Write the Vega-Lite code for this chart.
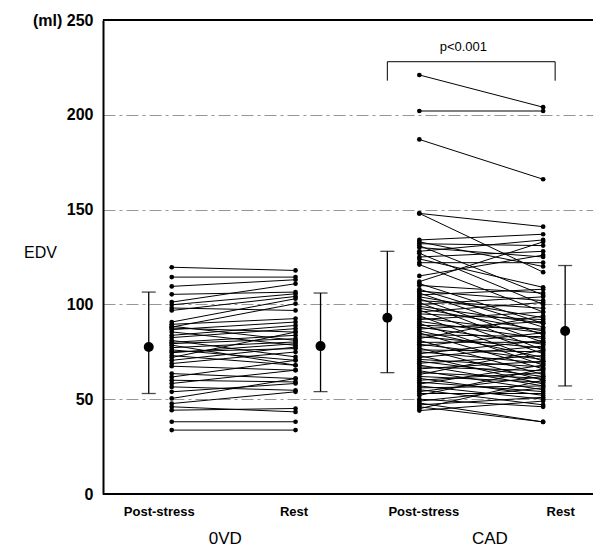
{
  "$schema": "https://vega.github.io/schema/vega-lite/v6.json",
  "padding": {"left": 23, "top": 12, "right": 0, "bottom": 0},
  "width": 492,
  "height": 474,
  "data": {"values": [
    {"group": "0VD", "kind": "patient", "id": 1, "0VD Post-stress": 119.6, "0VD Rest": 117.9},
    {"group": "0VD", "kind": "patient", "id": 2, "0VD Post-stress": 114.4, "0VD Rest": 114.4},
    {"group": "0VD", "kind": "patient", "id": 3, "0VD Post-stress": 109.5, "0VD Rest": 113.0},
    {"group": "0VD", "kind": "patient", "id": 4, "0VD Post-stress": 105.3, "0VD Rest": 106.5},
    {"group": "0VD", "kind": "patient", "id": 5, "0VD Post-stress": 101.2, "0VD Rest": 110.9},
    {"group": "0VD", "kind": "patient", "id": 6, "0VD Post-stress": 99.8, "0VD Rest": 105.6},
    {"group": "0VD", "kind": "patient", "id": 7, "0VD Post-stress": 98.1, "0VD Rest": 96.8},
    {"group": "0VD", "kind": "patient", "id": 8, "0VD Post-stress": 96.8, "0VD Rest": 104.2},
    {"group": "0VD", "kind": "patient", "id": 9, "0VD Post-stress": 90.7, "0VD Rest": 103.0},
    {"group": "0VD", "kind": "patient", "id": 10, "0VD Post-stress": 89.5, "0VD Rest": 92.5},
    {"group": "0VD", "kind": "patient", "id": 11, "0VD Post-stress": 88.0, "0VD Rest": 100.4},
    {"group": "0VD", "kind": "patient", "id": 12, "0VD Post-stress": 87.5, "0VD Rest": 85.4},
    {"group": "0VD", "kind": "patient", "id": 13, "0VD Post-stress": 86.7, "0VD Rest": 90.7},
    {"group": "0VD", "kind": "patient", "id": 14, "0VD Post-stress": 85.5, "0VD Rest": 78.4},
    {"group": "0VD", "kind": "patient", "id": 15, "0VD Post-stress": 83.7, "0VD Rest": 88.9},
    {"group": "0VD", "kind": "patient", "id": 16, "0VD Post-stress": 82.5, "0VD Rest": 87.2},
    {"group": "0VD", "kind": "patient", "id": 17, "0VD Post-stress": 81.0, "0VD Rest": 72.3},
    {"group": "0VD", "kind": "patient", "id": 18, "0VD Post-stress": 80.0, "0VD Rest": 83.7},
    {"group": "0VD", "kind": "patient", "id": 19, "0VD Post-stress": 79.3, "0VD Rest": 81.9},
    {"group": "0VD", "kind": "patient", "id": 20, "0VD Post-stress": 77.2, "0VD Rest": 80.2},
    {"group": "0VD", "kind": "patient", "id": 21, "0VD Post-stress": 76.0, "0VD Rest": 70.5},
    {"group": "0VD", "kind": "patient", "id": 22, "0VD Post-stress": 75.0, "0VD Rest": 76.7},
    {"group": "0VD", "kind": "patient", "id": 23, "0VD Post-stress": 74.5, "0VD Rest": 79.3},
    {"group": "0VD", "kind": "patient", "id": 24, "0VD Post-stress": 73.0, "0VD Rest": 67.9},
    {"group": "0VD", "kind": "patient", "id": 25, "0VD Post-stress": 70.5, "0VD Rest": 77.5},
    {"group": "0VD", "kind": "patient", "id": 26, "0VD Post-stress": 68.8, "0VD Rest": 74.9},
    {"group": "0VD", "kind": "patient", "id": 27, "0VD Post-stress": 67.4, "0VD Rest": 65.3},
    {"group": "0VD", "kind": "patient", "id": 28, "0VD Post-stress": 63.5, "0VD Rest": 60.9},
    {"group": "0VD", "kind": "patient", "id": 29, "0VD Post-stress": 61.7, "0VD Rest": 70.5},
    {"group": "0VD", "kind": "patient", "id": 30, "0VD Post-stress": 60.0, "0VD Rest": 59.1},
    {"group": "0VD", "kind": "patient", "id": 31, "0VD Post-stress": 58.3, "0VD Rest": 65.3},
    {"group": "0VD", "kind": "patient", "id": 32, "0VD Post-stress": 56.5, "0VD Rest": 54.7},
    {"group": "0VD", "kind": "patient", "id": 33, "0VD Post-stress": 53.9, "0VD Rest": 58.3},
    {"group": "0VD", "kind": "patient", "id": 34, "0VD Post-stress": 50.4, "0VD Rest": 60.9},
    {"group": "0VD", "kind": "patient", "id": 35, "0VD Post-stress": 47.7, "0VD Rest": 53.9},
    {"group": "0VD", "kind": "patient", "id": 36, "0VD Post-stress": 44.2, "0VD Rest": 45.1},
    {"group": "0VD", "kind": "patient", "id": 37, "0VD Post-stress": 38.1, "0VD Rest": 38.1},
    {"group": "0VD", "kind": "patient", "id": 38, "0VD Post-stress": 33.7, "0VD Rest": 33.7},
    {"group": "0VD", "kind": "patient", "id": 39, "0VD Post-stress": 88.5, "0VD Rest": 81.0},
    {"group": "0VD", "kind": "patient", "id": 40, "0VD Post-stress": 78.5, "0VD Rest": 67.9},
    {"group": "0VD", "kind": "patient", "id": 41, "0VD Post-stress": 72.0, "0VD Rest": 85.4},
    {"group": "0VD", "kind": "patient", "id": 42, "0VD Post-stress": 46.0, "0VD Rest": 43.3},
    {"group": "CAD", "kind": "patient", "id": 101, "CAD Post-stress": 221, "CAD Rest": 204},
    {"group": "CAD", "kind": "patient", "id": 102, "CAD Post-stress": 202, "CAD Rest": 202},
    {"group": "CAD", "kind": "patient", "id": 103, "CAD Post-stress": 187, "CAD Rest": 166},
    {"group": "CAD", "kind": "patient", "id": 104, "CAD Post-stress": 148, "CAD Rest": 141},
    {"group": "CAD", "kind": "patient", "id": 105, "CAD Post-stress": 148, "CAD Rest": 117},
    {"group": "CAD", "kind": "patient", "id": 106, "CAD Post-stress": 134, "CAD Rest": 137},
    {"group": "CAD", "kind": "patient", "id": 107, "CAD Post-stress": 133, "CAD Rest": 120},
    {"group": "CAD", "kind": "patient", "id": 108, "CAD Post-stress": 132, "CAD Rest": 131},
    {"group": "CAD", "kind": "patient", "id": 109, "CAD Post-stress": 131, "CAD Rest": 105},
    {"group": "CAD", "kind": "patient", "id": 110, "CAD Post-stress": 130, "CAD Rest": 125},
    {"group": "CAD", "kind": "patient", "id": 111, "CAD Post-stress": 128, "CAD Rest": 134},
    {"group": "CAD", "kind": "patient", "id": 112, "CAD Post-stress": 127, "CAD Rest": 100},
    {"group": "CAD", "kind": "patient", "id": 113, "CAD Post-stress": 125, "CAD Rest": 128},
    {"group": "CAD", "kind": "patient", "id": 114, "CAD Post-stress": 124, "CAD Rest": 109},
    {"group": "CAD", "kind": "patient", "id": 115, "CAD Post-stress": 122, "CAD Rest": 122},
    {"group": "CAD", "kind": "patient", "id": 116, "CAD Post-stress": 121, "CAD Rest": 96},
    {"group": "CAD", "kind": "patient", "id": 117, "CAD Post-stress": 115, "CAD Rest": 126},
    {"group": "CAD", "kind": "patient", "id": 118, "CAD Post-stress": 112, "CAD Rest": 133},
    {"group": "CAD", "kind": "patient", "id": 119, "CAD Post-stress": 111, "CAD Rest": 90},
    {"group": "CAD", "kind": "patient", "id": 120, "CAD Post-stress": 110, "CAD Rest": 106},
    {"group": "CAD", "kind": "patient", "id": 121, "CAD Post-stress": 108, "CAD Rest": 88},
    {"group": "CAD", "kind": "patient", "id": 122, "CAD Post-stress": 107, "CAD Rest": 102},
    {"group": "CAD", "kind": "patient", "id": 123, "CAD Post-stress": 106, "CAD Rest": 84},
    {"group": "CAD", "kind": "patient", "id": 124, "CAD Post-stress": 105, "CAD Rest": 108},
    {"group": "CAD", "kind": "patient", "id": 125, "CAD Post-stress": 104, "CAD Rest": 93},
    {"group": "CAD", "kind": "patient", "id": 126, "CAD Post-stress": 103, "CAD Rest": 80},
    {"group": "CAD", "kind": "patient", "id": 127, "CAD Post-stress": 102, "CAD Rest": 98},
    {"group": "CAD", "kind": "patient", "id": 128, "CAD Post-stress": 101, "CAD Rest": 76},
    {"group": "CAD", "kind": "patient", "id": 129, "CAD Post-stress": 100, "CAD Rest": 104},
    {"group": "CAD", "kind": "patient", "id": 130, "CAD Post-stress": 99, "CAD Rest": 90},
    {"group": "CAD", "kind": "patient", "id": 131, "CAD Post-stress": 98, "CAD Rest": 86},
    {"group": "CAD", "kind": "patient", "id": 132, "CAD Post-stress": 97, "CAD Rest": 74},
    {"group": "CAD", "kind": "patient", "id": 133, "CAD Post-stress": 96, "CAD Rest": 101},
    {"group": "CAD", "kind": "patient", "id": 134, "CAD Post-stress": 95, "CAD Rest": 92},
    {"group": "CAD", "kind": "patient", "id": 135, "CAD Post-stress": 94, "CAD Rest": 70},
    {"group": "CAD", "kind": "patient", "id": 136, "CAD Post-stress": 93, "CAD Rest": 85},
    {"group": "CAD", "kind": "patient", "id": 137, "CAD Post-stress": 92, "CAD Rest": 96},
    {"group": "CAD", "kind": "patient", "id": 138, "CAD Post-stress": 91, "CAD Rest": 82},
    {"group": "CAD", "kind": "patient", "id": 139, "CAD Post-stress": 90, "CAD Rest": 68},
    {"group": "CAD", "kind": "patient", "id": 140, "CAD Post-stress": 89, "CAD Rest": 87},
    {"group": "CAD", "kind": "patient", "id": 141, "CAD Post-stress": 88, "CAD Rest": 79},
    {"group": "CAD", "kind": "patient", "id": 142, "CAD Post-stress": 87, "CAD Rest": 91},
    {"group": "CAD", "kind": "patient", "id": 143, "CAD Post-stress": 86, "CAD Rest": 72},
    {"group": "CAD", "kind": "patient", "id": 144, "CAD Post-stress": 85, "CAD Rest": 66},
    {"group": "CAD", "kind": "patient", "id": 145, "CAD Post-stress": 84, "CAD Rest": 83},
    {"group": "CAD", "kind": "patient", "id": 146, "CAD Post-stress": 83, "CAD Rest": 77},
    {"group": "CAD", "kind": "patient", "id": 147, "CAD Post-stress": 82, "CAD Rest": 94},
    {"group": "CAD", "kind": "patient", "id": 148, "CAD Post-stress": 81, "CAD Rest": 63},
    {"group": "CAD", "kind": "patient", "id": 149, "CAD Post-stress": 80, "CAD Rest": 80},
    {"group": "CAD", "kind": "patient", "id": 150, "CAD Post-stress": 79, "CAD Rest": 71},
    {"group": "CAD", "kind": "patient", "id": 151, "CAD Post-stress": 78, "CAD Rest": 85},
    {"group": "CAD", "kind": "patient", "id": 152, "CAD Post-stress": 77, "CAD Rest": 60},
    {"group": "CAD", "kind": "patient", "id": 153, "CAD Post-stress": 76, "CAD Rest": 75},
    {"group": "CAD", "kind": "patient", "id": 154, "CAD Post-stress": 75, "CAD Rest": 69},
    {"group": "CAD", "kind": "patient", "id": 155, "CAD Post-stress": 74, "CAD Rest": 81},
    {"group": "CAD", "kind": "patient", "id": 156, "CAD Post-stress": 73, "CAD Rest": 58},
    {"group": "CAD", "kind": "patient", "id": 157, "CAD Post-stress": 72, "CAD Rest": 78},
    {"group": "CAD", "kind": "patient", "id": 158, "CAD Post-stress": 71, "CAD Rest": 67},
    {"group": "CAD", "kind": "patient", "id": 159, "CAD Post-stress": 70, "CAD Rest": 62},
    {"group": "CAD", "kind": "patient", "id": 160, "CAD Post-stress": 69, "CAD Rest": 73},
    {"group": "CAD", "kind": "patient", "id": 161, "CAD Post-stress": 68, "CAD Rest": 57},
    {"group": "CAD", "kind": "patient", "id": 162, "CAD Post-stress": 67, "CAD Rest": 65},
    {"group": "CAD", "kind": "patient", "id": 163, "CAD Post-stress": 66, "CAD Rest": 70},
    {"group": "CAD", "kind": "patient", "id": 164, "CAD Post-stress": 65, "CAD Rest": 55},
    {"group": "CAD", "kind": "patient", "id": 165, "CAD Post-stress": 64, "CAD Rest": 61},
    {"group": "CAD", "kind": "patient", "id": 166, "CAD Post-stress": 63, "CAD Rest": 76},
    {"group": "CAD", "kind": "patient", "id": 167, "CAD Post-stress": 62, "CAD Rest": 59},
    {"group": "CAD", "kind": "patient", "id": 168, "CAD Post-stress": 61, "CAD Rest": 52},
    {"group": "CAD", "kind": "patient", "id": 169, "CAD Post-stress": 60, "CAD Rest": 64},
    {"group": "CAD", "kind": "patient", "id": 170, "CAD Post-stress": 59, "CAD Rest": 54},
    {"group": "CAD", "kind": "patient", "id": 171, "CAD Post-stress": 58, "CAD Rest": 68},
    {"group": "CAD", "kind": "patient", "id": 172, "CAD Post-stress": 57, "CAD Rest": 50},
    {"group": "CAD", "kind": "patient", "id": 173, "CAD Post-stress": 56, "CAD Rest": 57},
    {"group": "CAD", "kind": "patient", "id": 174, "CAD Post-stress": 55, "CAD Rest": 47},
    {"group": "CAD", "kind": "patient", "id": 175, "CAD Post-stress": 54, "CAD Rest": 62},
    {"group": "CAD", "kind": "patient", "id": 176, "CAD Post-stress": 53, "CAD Rest": 53},
    {"group": "CAD", "kind": "patient", "id": 177, "CAD Post-stress": 52, "CAD Rest": 66},
    {"group": "CAD", "kind": "patient", "id": 178, "CAD Post-stress": 50, "CAD Rest": 46},
    {"group": "CAD", "kind": "patient", "id": 179, "CAD Post-stress": 49, "CAD Rest": 56},
    {"group": "CAD", "kind": "patient", "id": 180, "CAD Post-stress": 48, "CAD Rest": 38},
    {"group": "CAD", "kind": "patient", "id": 181, "CAD Post-stress": 47, "CAD Rest": 51},
    {"group": "CAD", "kind": "patient", "id": 182, "CAD Post-stress": 46, "CAD Rest": 38},
    {"group": "CAD", "kind": "patient", "id": 183, "CAD Post-stress": 45, "CAD Rest": 60},
    {"group": "CAD", "kind": "patient", "id": 184, "CAD Post-stress": 44, "CAD Rest": 49},
    {"group": "0VD", "kind": "summary", "cond": "0VD Post-stress", "mean": 77.5, "lo": 53, "hi": 106.5},
    {"group": "0VD", "kind": "summary", "cond": "0VD Rest", "mean": 78, "lo": 54, "hi": 106},
    {"group": "CAD", "kind": "summary", "cond": "CAD Post-stress", "mean": 93, "lo": 64, "hi": 128},
    {"group": "CAD", "kind": "summary", "cond": "CAD Rest", "mean": 86, "lo": 57, "hi": 120.5},
    {"group": "CAD", "kind": "bracket", "label": "p<0.001"}
  ]},
  "resolve": {"axis": {"x": "independent"}},
  "layer": [
    {
      "transform": [{"filter": "datum.kind == 'summary' && datum.cond == '0VD Post-stress'"}],
      "mark": {"type": "rule", "color": "black", "strokeWidth": 2},
      "encoding": {"y": {"datum": 250, "type": "quantitative", "title": "EDV"}}
    },
    {
      "transform": [{"filter": "datum.kind == 'summary' && datum.cond == '0VD Post-stress'"}],
      "mark": {"type": "rule", "color": "black", "strokeWidth": 2},
      "encoding": {"y": {"datum": 0, "type": "quantitative", "title": "EDV"}}
    },
    {
      "transform": [{"filter": "datum.kind == 'patient'"}, {"fold": ["0VD Post-stress", "0VD Rest", "CAD Post-stress", "CAD Rest"], "as": ["cond", "edv"]}, {"filter": "isValid(datum.edv)"}],
      "mark": {"type": "line", "color": "black", "strokeWidth": 1},
      "encoding": {
        "x": {"field": "cond", "type": "nominal", "title": null, "scale": {"type": "point", "domain": ["0VD Post-stress", "0VD Rest", "CAD Post-stress", "CAD Rest"], "padding": 0.487, "align": 0.57}, "axis": {"orient": "bottom", "values": ["0VD Post-stress"], "labelExpr": "split(datum.value, ' ')[1]", "labelOffset": -13, "domain": false}},
        "y": {"field": "edv", "type": "quantitative", "title": "EDV", "scale": {"domain": [0, 250], "nice": false}, "axis": {"grid": true, "labelExpr": "datum.value == 250 ? '(ml) 250' : datum.label"}},
        "detail": {"field": "id", "type": "nominal"}
      }
    },
    {
      "transform": [{"filter": "datum.kind == 'patient'"}, {"fold": ["0VD Post-stress", "0VD Rest", "CAD Post-stress", "CAD Rest"], "as": ["cond", "edv"]}, {"filter": "isValid(datum.edv)"}],
      "mark": {"type": "point", "filled": true, "color": "black", "opacity": 1, "size": 22},
      "encoding": {
        "x": {"field": "cond", "type": "nominal", "title": null, "axis": {"orient": "bottom", "values": ["0VD Rest"], "labelExpr": "split(datum.value, ' ')[1]", "labelOffset": -2, "domain": false}},
        "y": {"field": "edv", "type": "quantitative", "title": "EDV"}
      }
    },
    {
      "transform": [{"filter": "datum.kind == 'summary' && datum.cond == '0VD Post-stress'"}],
      "mark": {"type": "rule", "color": "black", "strokeWidth": 1.3, "xOffset": -23},
      "encoding": {
        "x": {"field": "cond", "type": "nominal", "title": null, "axis": {"orient": "bottom", "values": ["0VD Post-stress"], "labelExpr": "split(datum.value, ' ')[0]", "labelOffset": 53, "labelPadding": 36, "labelFontSize": 17, "labelFontWeight": "normal", "domain": false}},
        "y": {"field": "lo", "type": "quantitative", "title": "EDV"},
        "y2": {"field": "hi"}
      }
    },
    {
      "transform": [{"filter": "datum.kind == 'summary' && datum.cond == '0VD Post-stress'"}, {"fold": ["lo", "hi"], "as": ["end", "v"]}],
      "mark": {"type": "tick", "orient": "horizontal", "color": "black", "size": 14, "thickness": 1.3, "xOffset": -23},
      "encoding": {"x": {"field": "cond", "type": "nominal", "axis": null}, "y": {"field": "v", "type": "quantitative", "title": "EDV"}}
    },
    {
      "transform": [{"filter": "datum.kind == 'summary' && datum.cond == '0VD Post-stress'"}],
      "mark": {"type": "point", "filled": true, "color": "black", "opacity": 1, "size": 100, "xOffset": -23},
      "encoding": {"x": {"field": "cond", "type": "nominal", "axis": null}, "y": {"field": "mean", "type": "quantitative", "title": "EDV"}}
    },
    {
      "transform": [{"filter": "datum.kind == 'summary' && datum.cond == '0VD Rest'"}],
      "mark": {"type": "rule", "color": "black", "strokeWidth": 1.3, "xOffset": 25},
      "encoding": {
        "x": {"field": "cond", "type": "nominal", "title": null, "axis": {"orient": "bottom", "values": ["CAD Post-stress"], "labelExpr": "split(datum.value, ' ')[0]", "labelOffset": 70, "labelPadding": 36, "labelFontSize": 17, "labelFontWeight": "normal", "domain": false}},
        "y": {"field": "lo", "type": "quantitative", "title": "EDV"},
        "y2": {"field": "hi"}
      }
    },
    {
      "transform": [{"filter": "datum.kind == 'summary' && datum.cond == '0VD Rest'"}, {"fold": ["lo", "hi"], "as": ["end", "v"]}],
      "mark": {"type": "tick", "orient": "horizontal", "color": "black", "size": 14, "thickness": 1.3, "xOffset": 25},
      "encoding": {"x": {"field": "cond", "type": "nominal", "axis": null}, "y": {"field": "v", "type": "quantitative", "title": "EDV"}}
    },
    {
      "transform": [{"filter": "datum.kind == 'summary' && datum.cond == '0VD Rest'"}],
      "mark": {"type": "point", "filled": true, "color": "black", "opacity": 1, "size": 100, "xOffset": 25},
      "encoding": {"x": {"field": "cond", "type": "nominal", "axis": null}, "y": {"field": "mean", "type": "quantitative", "title": "EDV"}}
    },
    {
      "transform": [{"filter": "datum.kind == 'summary' && datum.cond == 'CAD Post-stress'"}],
      "mark": {"type": "rule", "color": "black", "strokeWidth": 1.3, "xOffset": -32},
      "encoding": {
        "x": {"field": "cond", "type": "nominal", "title": null, "axis": {"orient": "bottom", "values": ["CAD Post-stress"], "labelExpr": "split(datum.value, ' ')[1]", "labelOffset": 4, "domain": false}},
        "y": {"field": "lo", "type": "quantitative", "title": "EDV"},
        "y2": {"field": "hi"}
      }
    },
    {
      "transform": [{"filter": "datum.kind == 'summary' && datum.cond == 'CAD Post-stress'"}, {"fold": ["lo", "hi"], "as": ["end", "v"]}],
      "mark": {"type": "tick", "orient": "horizontal", "color": "black", "size": 14, "thickness": 1.3, "xOffset": -32},
      "encoding": {"x": {"field": "cond", "type": "nominal", "axis": null}, "y": {"field": "v", "type": "quantitative", "title": "EDV"}}
    },
    {
      "transform": [{"filter": "datum.kind == 'summary' && datum.cond == 'CAD Post-stress'"}],
      "mark": {"type": "point", "filled": true, "color": "black", "opacity": 1, "size": 100, "xOffset": -32},
      "encoding": {"x": {"field": "cond", "type": "nominal", "axis": null}, "y": {"field": "mean", "type": "quantitative", "title": "EDV"}}
    },
    {
      "transform": [{"filter": "datum.kind == 'summary' && datum.cond == 'CAD Rest'"}],
      "mark": {"type": "rule", "color": "black", "strokeWidth": 1.3, "xOffset": 22},
      "encoding": {
        "x": {"field": "cond", "type": "nominal", "title": null, "axis": {"orient": "bottom", "values": ["CAD Rest"], "labelExpr": "split(datum.value, ' ')[1]", "labelOffset": 17, "domain": false}},
        "y": {"field": "lo", "type": "quantitative", "title": "EDV"},
        "y2": {"field": "hi"}
      }
    },
    {
      "transform": [{"filter": "datum.kind == 'summary' && datum.cond == 'CAD Rest'"}, {"fold": ["lo", "hi"], "as": ["end", "v"]}],
      "mark": {"type": "tick", "orient": "horizontal", "color": "black", "size": 14, "thickness": 1.3, "xOffset": 22},
      "encoding": {"x": {"field": "cond", "type": "nominal", "axis": null}, "y": {"field": "v", "type": "quantitative", "title": "EDV"}}
    },
    {
      "transform": [{"filter": "datum.kind == 'summary' && datum.cond == 'CAD Rest'"}],
      "mark": {"type": "point", "filled": true, "color": "black", "opacity": 1, "size": 100, "xOffset": 22},
      "encoding": {"x": {"field": "cond", "type": "nominal", "axis": null}, "y": {"field": "mean", "type": "quantitative", "title": "EDV"}}
    },
    {
      "transform": [{"filter": "datum.kind == 'bracket'"}],
      "mark": {"type": "rule", "color": "black", "strokeWidth": 1, "xOffset": -32, "x2Offset": 12},
      "encoding": {
        "x": {"datum": "CAD Post-stress", "type": "nominal", "axis": null},
        "x2": {"datum": "CAD Rest"},
        "y": {"datum": 228, "type": "quantitative", "title": "EDV"}
      }
    },
    {
      "transform": [{"filter": "datum.kind == 'bracket'"}],
      "mark": {"type": "rule", "color": "black", "strokeWidth": 1, "xOffset": -32},
      "encoding": {
        "x": {"datum": "CAD Post-stress", "type": "nominal", "axis": null},
        "y": {"datum": 228, "type": "quantitative", "title": "EDV"},
        "y2": {"datum": 218}
      }
    },
    {
      "transform": [{"filter": "datum.kind == 'bracket'"}],
      "mark": {"type": "rule", "color": "black", "strokeWidth": 1, "xOffset": 12},
      "encoding": {
        "x": {"datum": "CAD Rest", "type": "nominal", "axis": null},
        "y": {"datum": 228, "type": "quantitative", "title": "EDV"},
        "y2": {"datum": 218}
      }
    },
    {
      "transform": [{"filter": "datum.kind == 'bracket'"}],
      "mark": {"type": "text", "color": "black", "fontSize": 13, "font": "Liberation Sans", "xOffset": 44, "baseline": "middle", "align": "center"},
      "encoding": {
        "x": {"datum": "CAD Post-stress", "type": "nominal", "axis": null},
        "y": {"datum": 236, "type": "quantitative", "title": "EDV"},
        "text": {"field": "label"}
      }
    }
  ],
  "config": {
    "font": "Liberation Sans",
    "view": {"stroke": null},
    "axisY": {
      "tickCount": 5,
      "labelFontSize": 16,
      "labelFontWeight": "bold",
      "labelColor": "black",
      "labelPadding": 10,
      "ticks": false,
      "domainColor": "black",
      "domainWidth": 2,
      "grid": true,
      "gridColor": "#8a8a8a",
      "gridDash": [12, 4, 3, 4],
      "gridWidth": 0.9,
      "titleAngle": 0,
      "titleX": -63,
      "titleY": 232,
      "titleAlign": "center",
      "titleBaseline": "middle",
      "titleFontSize": 16,
      "titleFontWeight": "normal",
      "titleColor": "black"
    },
    "axisX": {
      "labelFontSize": 13,
      "labelFontWeight": "bold",
      "labelColor": "black",
      "ticks": false,
      "domainColor": "black",
      "domainWidth": 2,
      "labelPadding": 11,
      "labelAngle": 0,
      "grid": false
    }
  }
}
